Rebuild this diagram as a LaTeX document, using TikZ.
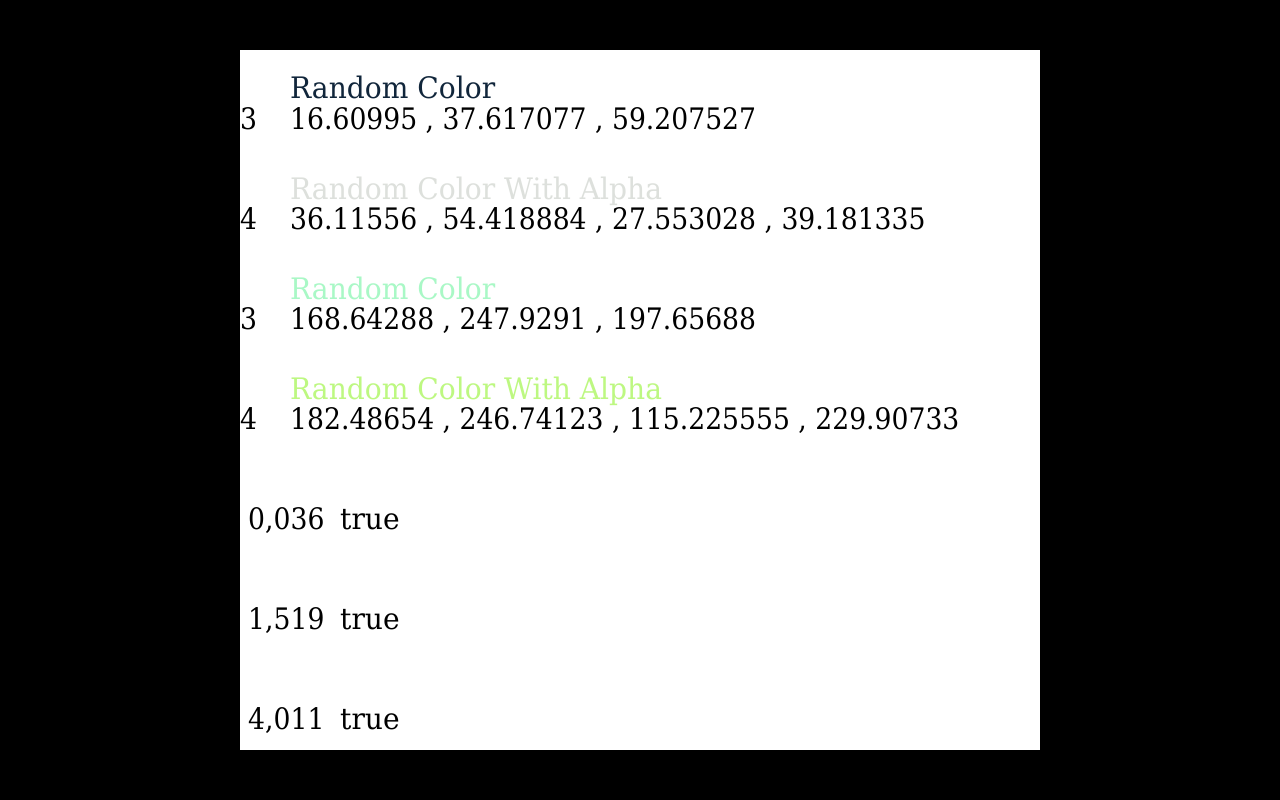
\documentclass[tikz,border=0pt]{standalone}
\usepackage{fontspec}
\setmainfont{DejaVu Serif}[FakeStretch=0.9]
\newfontfamily\lblfont{DejaVu Serif}[FakeStretch=0.95]
\definecolor{cA}{RGB}{17,38,59}
\definecolor{cB}{RGB}{221,224,220}
\definecolor{cC}{RGB}{169,248,198}
\definecolor{cD}{RGB}{189,248,129}
\tikzset{txt/.style={anchor=base west,inner sep=0pt,font=\fontsize{29.6}{32}\selectfont},
  lbl/.style={txt,font=\lblfont\fontsize{29.6}{32}\selectfont}}
\begin{document}
\begin{tikzpicture}[x=1pt,y=-1pt]
\fill[black] (0,0) rectangle (1280,800);
\useasboundingbox (0,0) rectangle (1280,800);
\fill[white] (240,50) rectangle (1040,750);
\node[lbl,text=cA] (l1) at (290,99) {Random Color};
\node[txt] (n1) at (240,129) {3};
\node[txt] (v1) at (290,129) {16.60995 , 37.617077 , 59.207527};
\node[lbl,text=cB] (l2) at (290,199) {Random Color With Alpha};
\node[txt] (n2) at (240,229) {4};
\node[txt] (v2) at (290,229) {36.11556 , 54.418884 , 27.553028 , 39.181335};
\node[lbl,text=cC] (l3) at (290,299) {Random Color};
\node[txt] (n3) at (240,329) {3};
\node[txt] (v3) at (290,329) {168.64288 , 247.9291 , 197.65688};
\node[lbl,text=cD] (l4) at (290,399) {Random Color With Alpha};
\node[txt] (n4) at (240,429) {4};
\node[txt] (v4) at (290,429) {182.48654 , 246.74123 , 115.225555 , 229.90733};
\node[txt] (t1) at (248,529) {0,036};
\node[lbl] (b1) at (340,529) {true};
\node[txt] (t2) at (248,629) {1,519};
\node[lbl] (b2) at (340,629) {true};
\node[txt] (t3) at (248,729) {4,011};
\node[lbl] (b3) at (340,729) {true};
\end{tikzpicture}
\end{document}
